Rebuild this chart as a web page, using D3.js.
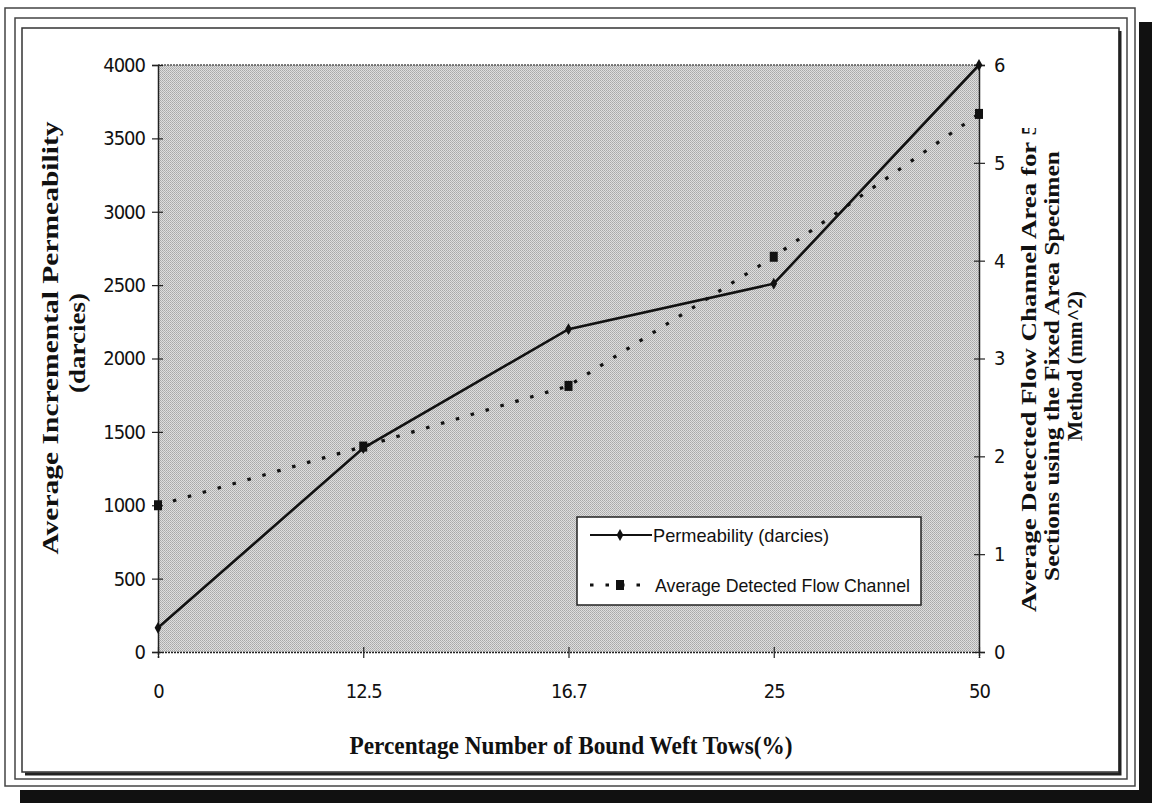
<!DOCTYPE html>
<html>
<head>
<meta charset="utf-8">
<script src="https://cdn.jsdelivr.net/npm/d3@7/dist/d3.min.js"></script>
<style>
  html, body { margin: 0; padding: 0; background: #fff; }
  svg { display: block; }
  .tick text { font-family: "Liberation Sans Narrow", "Arial Narrow", "DejaVu Sans Condensed", sans-serif; font-size: 20px; fill: #111; }
</style>
</head>
<body>
<script>
// ---- data ----
const categories = ["0", "12.5", "16.7", "25", "50"];
const permeability = [165, 1390, 2200, 2510, 4000];
const flowArea = [1.5, 2.1, 2.72, 4.04, 5.5];
const leftTicks = [0, 500, 1000, 1500, 2000, 2500, 3000, 3500, 4000];
const rightTicks = [0, 1, 2, 3, 4, 5, 6];
const seriesNames = ["Permeability (darcies)", "Average Detected Flow Channel"];
const xTitle = "Percentage Number of Bound Weft Tows(%)";
const leftTitle = ["Average Incremental Permeability", "(darcies)"];
const rightTitle = ["Average Detected Flow Channel Area for 5", "Sections using the Fixed Area Specimen", "Method (mm^2)"];

const W = 1156, H = 803;
const plot = { left: 158, right: 979, top: 65, bottom: 652 };

const svg = d3.select("body").append("svg").attr("width", W).attr("height", H);
const defs = svg.append("defs");
const pat = defs.append("pattern").attr("id", "dots").attr("patternUnits", "userSpaceOnUse")
  .attr("width", 2).attr("height", 2);
pat.append("rect").attr("width", 2).attr("height", 2).attr("fill", "#dedede");
pat.append("rect").attr("x", 0).attr("y", 0).attr("width", 1).attr("height", 1).attr("fill", "#a8a8a8");
pat.append("rect").attr("x", 1).attr("y", 1).attr("width", 1).attr("height", 1).attr("fill", "#b4b4b4");
defs.append("clipPath").attr("id", "rclip").append("rect")
  .attr("x", 1000).attr("y", 128).attr("width", 110).attr("height", 600);

// ---- frame ----
svg.append("rect").attr("x", 1139).attr("y", 22).attr("width", 13).attr("height", 781).attr("fill", "#111");
svg.append("rect").attr("x", 20).attr("y", 790).attr("width", 1132).attr("height", 13).attr("fill", "#111");
svg.append("rect").attr("x", 5).attr("y", 8).attr("width", 1130).attr("height", 778)
  .attr("fill", "#fff").attr("stroke", "#444").attr("stroke-width", 1.5);
svg.append("rect").attr("x", 15).attr("y", 18).attr("width", 1112).attr("height", 761)
  .attr("fill", "#fff").attr("stroke", "#444").attr("stroke-width", 1.5);
svg.append("rect").attr("x", 22).attr("y", 28).attr("width", 1097).attr("height", 744)
  .attr("fill", "#fff").attr("stroke", "#333").attr("stroke-width", 1.5);
svg.append("path").attr("d", "M1120,31 V774 H25").attr("fill", "none").attr("stroke", "#222").attr("stroke-width", 3);

// ---- scales ----
const x = d3.scalePoint().domain(categories).range([plot.left, plot.right]).padding(0);
const yL = d3.scaleLinear().domain([0, 4000]).range([plot.bottom, plot.top]);
const yR = d3.scaleLinear().domain([0, 6]).range([plot.bottom, plot.top]);

// ---- plot area ----
svg.append("rect").attr("x", plot.left).attr("y", plot.top)
  .attr("width", plot.right - plot.left).attr("height", plot.bottom - plot.top)
  .attr("fill", "url(#dots)");
svg.append("line").attr("x1", plot.left).attr("x2", plot.right).attr("y1", plot.top).attr("y2", plot.top)
  .attr("stroke", "#555").attr("stroke-width", 1.5).attr("stroke-dasharray", "2,1");

// ---- axes ----
const gL = svg.append("g").attr("transform", `translate(${plot.left},0)`)
  .call(d3.axisLeft(yL).tickValues(leftTicks).tickFormat(d3.format("d")).tickSize(6).tickPadding(7));
const gR = svg.append("g").attr("transform", `translate(${plot.right},0)`)
  .call(d3.axisRight(yR).tickValues(rightTicks).tickFormat(d3.format("d")).tickSize(6).tickPadding(9));
const gB = svg.append("g").attr("transform", `translate(0,${plot.bottom})`)
  .call(d3.axisBottom(x).tickSize(6).tickPadding(26));
[gL, gR, gB].forEach(g => {
  g.select(".domain").attr("stroke", "#222").attr("stroke-width", 1.5);
  g.selectAll(".tick line").attr("stroke", "#222").attr("stroke-width", 1.2);
});
gL.selectAll(".tick line").attr("x1", 5).attr("x2", -6);
gR.selectAll(".tick line").attr("x1", -5).attr("x2", 6);
gB.selectAll(".tick line").attr("y1", -5).attr("y2", 6);
gL.selectAll(".tick text").attr("letter-spacing", "-1px");
gB.selectAll(".tick text").attr("letter-spacing", "-1px");
gB.select(".domain").attr("stroke-dasharray", "2,1");

// ---- series ----
const pts = categories.map((c, i) => ({ c, p: permeability[i], f: flowArea[i] }));
svg.append("path").datum(pts)
  .attr("d", d3.line().x(d => x(d.c)).y(d => yL(d.p)))
  .attr("fill", "none").attr("stroke", "#111").attr("stroke-width", 2.6);
svg.append("path").datum(pts)
  .attr("d", d3.line().x(d => x(d.c)).y(d => yR(d.f)))
  .attr("fill", "none").attr("stroke", "#111").attr("stroke-width", 3.2)
  .attr("stroke-dasharray", "3.5,12");
const diamond = d3.symbol().type(d3.symbolDiamond).size(40);
svg.selectAll(".pm").data(pts).join("path").attr("class", "pm")
  .attr("d", diamond).attr("transform", d => `translate(${x(d.c)},${yL(d.p)})`).attr("fill", "#111");
svg.selectAll(".fm").data(pts).join("rect").attr("class", "fm")
  .attr("x", d => x(d.c) - 4).attr("y", d => yR(d.f) - 5).attr("width", 8).attr("height", 10).attr("fill", "#111");

// ---- legend ----
const lg = svg.append("g");
lg.append("rect").attr("x", 577).attr("y", 517).attr("width", 344).attr("height", 88)
  .attr("fill", "#fff").attr("stroke", "#222").attr("stroke-width", 1.5);
lg.append("line").attr("x1", 590).attr("x2", 652).attr("y1", 535).attr("y2", 535)
  .attr("stroke", "#111").attr("stroke-width", 2.2);
lg.append("path").attr("d", diamond).attr("transform", "translate(620,535)").attr("fill", "#111");
lg.append("line").attr("x1", 590).attr("x2", 652).attr("y1", 585).attr("y2", 585)
  .attr("stroke", "#111").attr("stroke-width", 3.2).attr("stroke-dasharray", "3.5,12");
lg.append("rect").attr("x", 616).attr("y", 580).attr("width", 8).attr("height", 10).attr("fill", "#111");
const legFont = "'Liberation Sans Narrow', 'Arial Narrow', sans-serif";
lg.append("text").attr("x", 653).attr("y", 542).text(seriesNames[0])
  .attr("font-family", legFont).attr("font-size", 19).attr("fill", "#111")
  .attr("textLength", 176).attr("lengthAdjust", "spacingAndGlyphs");
lg.append("text").attr("x", 655).attr("y", 592).text(seriesNames[1])
  .attr("font-family", legFont).attr("font-size", 19).attr("fill", "#111")
  .attr("textLength", 255).attr("lengthAdjust", "spacingAndGlyphs");

// ---- titles ----
svg.append("text").attr("x", 571).attr("y", 754).attr("text-anchor", "middle").text(xTitle)
  .attr("font-family", "'Liberation Serif', serif").attr("font-size", 25).attr("fill", "#111")
  .attr("font-weight", "bold")
  .attr("textLength", 443).attr("lengthAdjust", "spacingAndGlyphs");

const serif = "'Liberation Serif', 'Times New Roman', serif";
const lt = svg.append("g").attr("transform", "translate(58,338) rotate(-90)");
lt.append("text").attr("x", 0).attr("y", 0).attr("text-anchor", "middle").text(leftTitle[0])
  .attr("font-family", serif).attr("font-size", 23).attr("font-weight", "bold").attr("fill", "#111")
  .attr("textLength", 433).attr("lengthAdjust", "spacingAndGlyphs");
lt.append("text").attr("x", -5).attr("y", 27).attr("text-anchor", "middle").text(leftTitle[1])
  .attr("font-family", serif).attr("font-size", 23).attr("font-weight", "bold").attr("fill", "#111")
  .attr("textLength", 100).attr("lengthAdjust", "spacingAndGlyphs");

const rg = svg.append("g").attr("clip-path", "url(#rclip)");
const rt = rg.append("g").attr("transform", "translate(1036,366) rotate(-90)");
const rLens = [490, 430, 150];
rightTitle.forEach((t, i) => {
  rt.append("text").attr("x", i === 0 ? -1 : 0).attr("y", i * 23).attr("text-anchor", "middle").text(t)
    .attr("font-family", serif).attr("font-size", 20).attr("font-weight", "bold").attr("fill", "#111")
    .attr("textLength", rLens[i]).attr("lengthAdjust", "spacingAndGlyphs");
});
</script>
</body>
</html>
